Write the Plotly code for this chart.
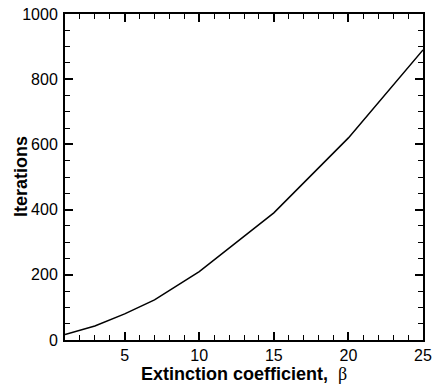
import plotly.graph_objects as go

beta = [1, 3, 5, 7, 10, 15, 20, 25]
iterations = [17, 43, 80, 123, 210, 390, 620, 890]

x_ticks = [5, 10, 15, 20, 25]
y_ticks = [0, 200, 400, 600, 800, 1000]

W, H = 434, 391
ML, MR, MT, MB = 65, 11, 14, 51

fig = go.Figure()
fig.add_trace(go.Scatter(x=beta, y=iterations, mode="lines",
                         line=dict(color="black", width=1.5), showlegend=False))

axis_common = dict(
    showgrid=False, zeroline=False, showline=True, linecolor="black", linewidth=2,
    mirror="allticks", ticks="inside", ticklen=8, tickwidth=1.5, tickcolor="black",
    tickfont=dict(family="Liberation Sans, Arial", size=16, color="black"),
    automargin=False,
)

fig.update_xaxes(range=[1, 25], tickvals=x_ticks,
                 minor=dict(dtick=1, ticks="inside", ticklen=5, tickcolor="black", tickwidth=1),
                 title=dict(text="<b>Extinction coefficient,</b>  <span style='font-family:Liberation Serif'>β</span>",
                            font=dict(family="Liberation Sans, Arial", size=18, color="black"), standoff=2),
                 ticklabelstandoff=0,
                 **axis_common)
fig.update_yaxes(range=[0, 1000], tickvals=y_ticks,
                 minor=dict(dtick=50, ticks="inside", ticklen=5, tickcolor="black", tickwidth=1),
                 ticklabelstandoff=2,
                 **axis_common)

plot_w = W - ML - MR
fig.add_annotation(text="<b>Iterations</b>", textangle=-90, showarrow=False,
                   xref="paper", yref="paper", x=(21 - ML) / plot_w, y=0.5,
                   xanchor="center", yanchor="middle",
                   font=dict(family="Liberation Sans, Arial", size=18, color="black"))

fig.update_layout(width=W, height=H, margin=dict(l=ML, r=MR, t=MT, b=MB),
                  plot_bgcolor="white", paper_bgcolor="white")
fig.write_html("out.html")
